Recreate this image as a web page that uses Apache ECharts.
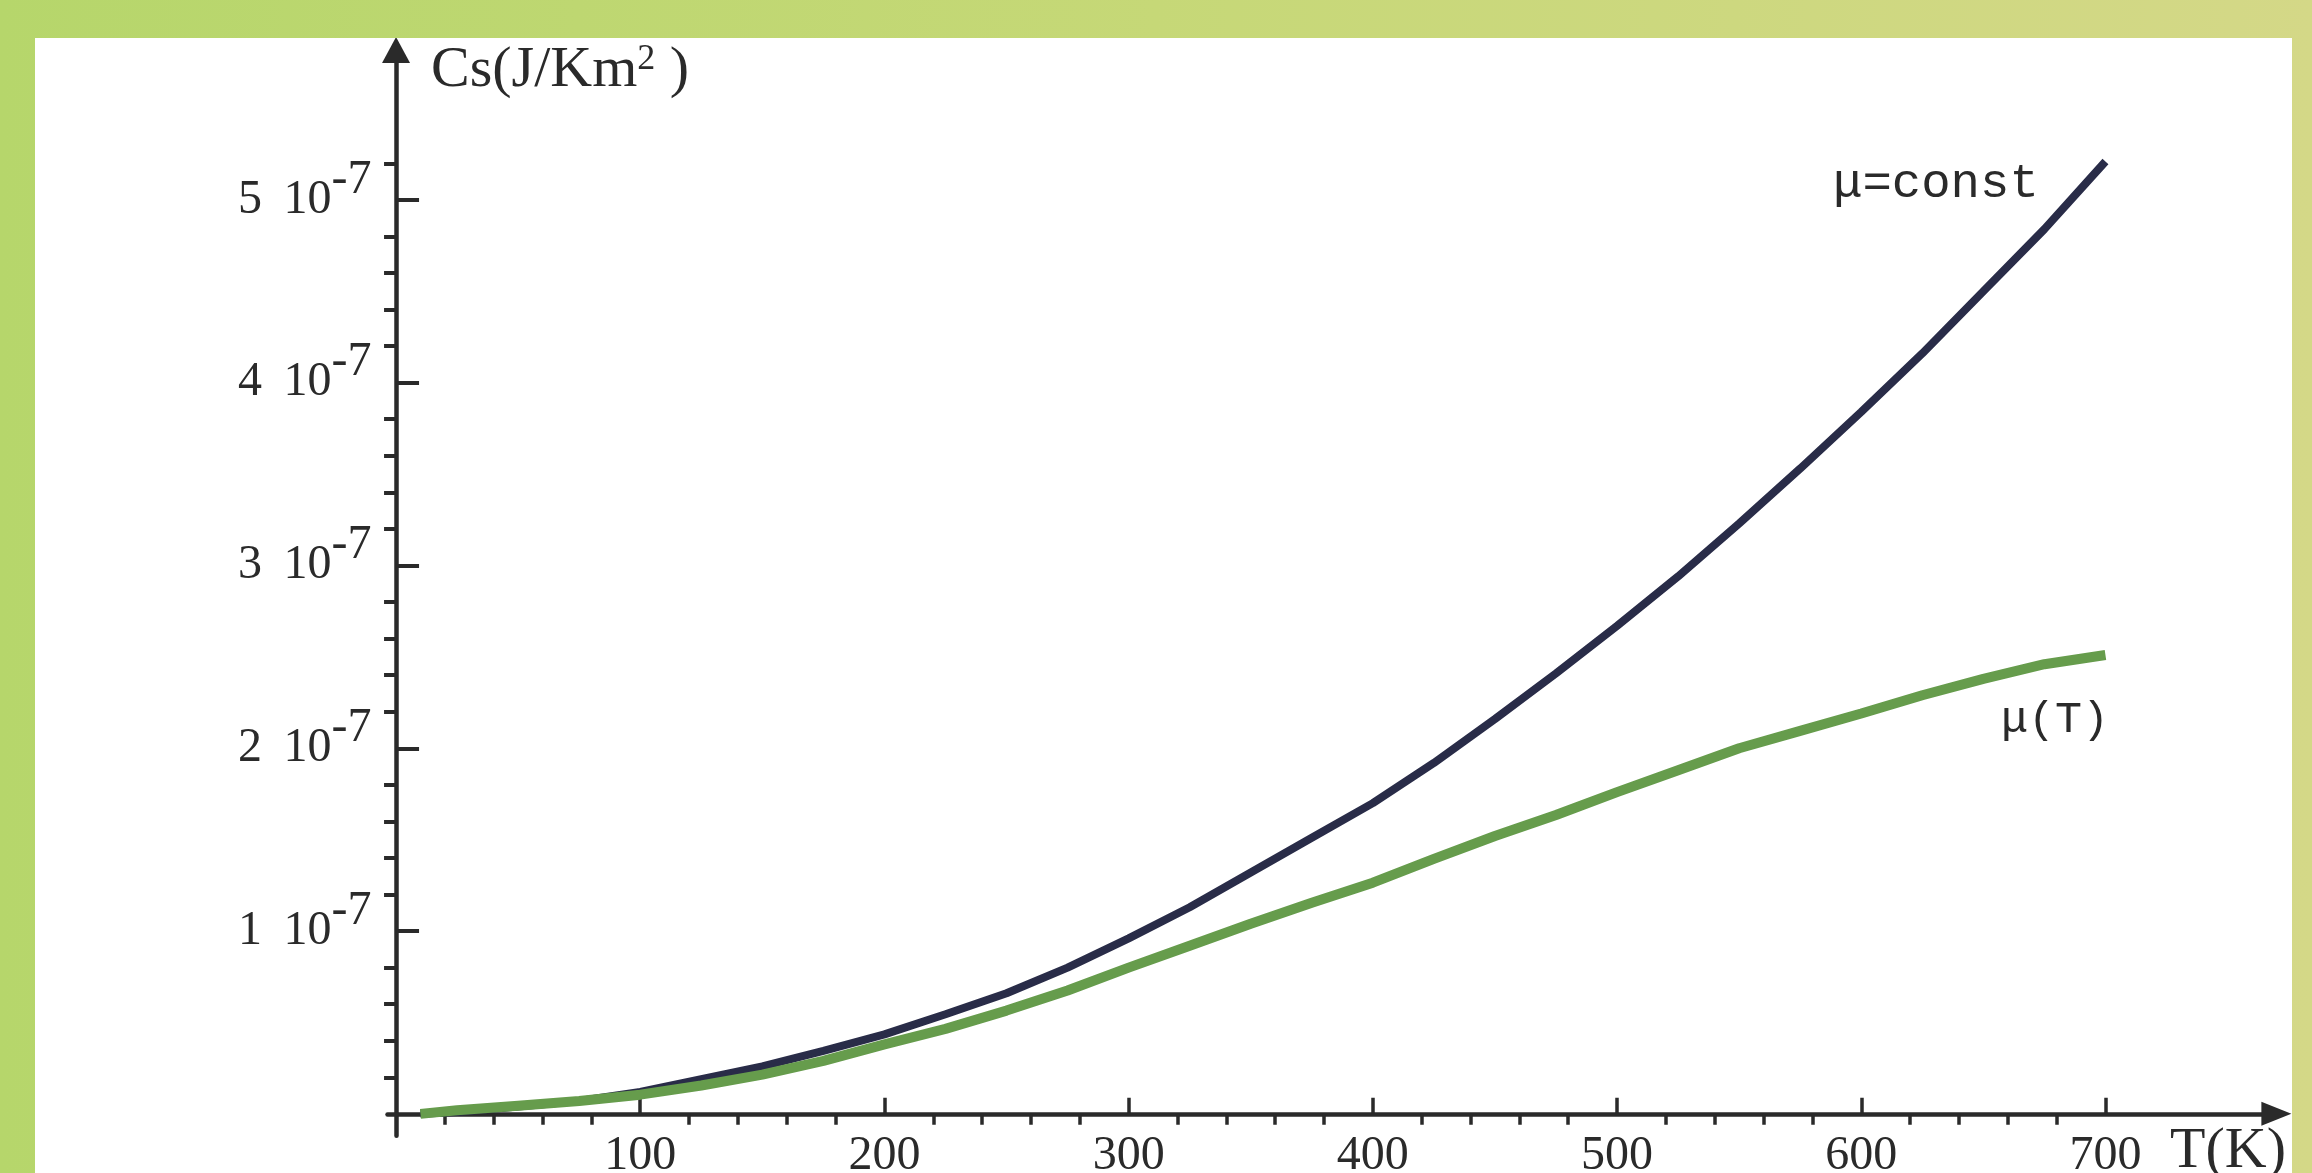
<!DOCTYPE html>
<html>
<head>
<meta charset="utf-8">
<script src="https://cdn.jsdelivr.net/npm/echarts@6/dist/echarts.min.js"></script>
<style>
  html, body { margin: 0; padding: 0; }
  body {
    width: 2312px; height: 1173px; overflow: hidden;
    background: linear-gradient(to right, #b6d66b 0%, #c6d877 50%, #d4d887 100%);
  }
  #frame {
    position: absolute; left: 35px; top: 38px;
    width: 2257px; height: 1135px;
    background: #fff; overflow: hidden;
  }
  #chart { width: 2257px; height: 1135px; }
</style>
</head>
<body>
<div id="frame"><div id="chart"></div></div>
<script>
// temperature T (K)
const temps = [10, 25, 50, 75, 100, 125, 150, 175, 200, 225, 250, 275, 300, 325, 350,
  375, 400, 425, 450, 475, 500, 525, 550, 575, 600, 625, 650, 675, 700];
// Cs in units of 1e-7 J/(K m^2)
const csConstMu = [0.00, 0.01, 0.04, 0.07, 0.12, 0.19, 0.26, 0.345, 0.435, 0.545, 0.66, 0.80, 0.96,
  1.13, 1.32, 1.51, 1.70, 1.92, 2.16, 2.41, 2.67, 2.94, 3.23, 3.53, 3.84, 4.16, 4.50, 4.84, 5.21];
const csMuOfT = [0.00, 0.02, 0.045, 0.07, 0.105, 0.155, 0.215, 0.29, 0.38, 0.465, 0.565, 0.675, 0.80,
  0.92, 1.04, 1.155, 1.265, 1.395, 1.52, 1.635, 1.76, 1.88, 2.0, 2.095, 2.19, 2.29, 2.38, 2.46, 2.51];

const xMajor = [100, 200, 300, 400, 500, 600, 700];
const yMajor = [1, 2, 3, 4, 5];

// minor ticks: every 20 K up to 700, every 0.2e-7 up to 5.2e-7
const xMinor = [];
for (let t = 20; t < 700; t += 20) if (t % 100 !== 0) xMinor.push(t);
const yMinor = [];
for (let i = 1; i <= 26; i++) if (i % 5 !== 0) yMinor.push(+(i * 0.2).toFixed(1));

const ink = '#2a2a2a';
const serif = '"Liberation Serif", "Times New Roman", serif';
const mono = '"Liberation Mono", "Courier New", monospace';

const chart = echarts.init(document.getElementById('chart'));

const xRange = { min: -3.5, max: 770 };
const yRange = { min: -0.12, max: 5.82 };

const option = {
  animation: false,
  grid: { left: 352.5, right: 15.6, top: 12, bottom: 37.2, containLabel: false, outerBoundsMode: 'none' },
  xAxis: [
    {
      type: 'value', ...xRange,
      axisLine: { onZero: true, onZeroAxisIndex: 0, symbol: ['none', 'triangle'], symbolSize: [24, 30],
        lineStyle: { color: ink, width: 4.5 } },
      axisTick: { inside: true, length: 16, customValues: xMajor, lineStyle: { color: ink, width: 3.5 } },
      axisLabel: { customValues: xMajor, margin: -3, color: ink, fontFamily: serif, fontSize: 48 },
      splitLine: { show: false }
    },
    {
      type: 'value', ...xRange,
      axisLine: { show: false, onZero: true, onZeroAxisIndex: 0 },
      axisTick: { inside: true, length: 11, customValues: xMinor, lineStyle: { color: ink, width: 3.5 } },
      axisLabel: { show: false },
      splitLine: { show: false }
    }
  ],
  yAxis: [
    {
      type: 'value', ...yRange,
      axisLine: { onZero: true, onZeroAxisIndex: 0, symbol: ['none', 'triangle'], symbolSize: [28, 26],
        lineStyle: { color: ink, width: 4.5 } },
      axisTick: { inside: true, length: 23, customValues: yMajor, lineStyle: { color: ink, width: 4 } },
      axisLabel: {
        customValues: yMajor, margin: 16, color: ink,
        formatter: v => '{n|' + v + ' \u200910}{s|-7}',
        rich: {
          n: { fontFamily: serif, fontSize: 48, lineHeight: 48, color: ink },
          // superscript: extra bottom padding lifts the exponent above the baseline
          s: { fontFamily: serif, fontSize: 48, lineHeight: 48, padding: [0, 0, 40, 0], color: ink }
        }
      },
      splitLine: { show: false }
    },
    {
      type: 'value', ...yRange,
      axisLine: { show: false, onZero: true, onZeroAxisIndex: 0 },
      axisTick: { inside: true, length: 12, customValues: yMinor, lineStyle: { color: ink, width: 4 } },
      axisLabel: { show: false },
      splitLine: { show: false }
    }
  ],
  series: [
    {
      name: 'μ=const', type: 'line', showSymbol: false,
      data: temps.map((t, i) => [t, csConstMu[i]]),
      lineStyle: { color: '#292c48', width: 8 }
    },
    {
      name: 'μ(T)', type: 'line', showSymbol: false,
      data: temps.map((t, i) => [t, csMuOfT[i]]),
      lineStyle: { color: '#669c4c', width: 10 }
    }
  ],
  graphic: [
    {
      type: 'text', left: 396, top: 4,
      style: {
        text: '{b|Cs(J/Km}{s|2}{b| )}',
        rich: {
          b: { fontFamily: serif, fontSize: 58, lineHeight: 58, fill: ink },
          s: { fontFamily: serif, fontSize: 36, lineHeight: 14, verticalAlign: 'top', fill: ink }
        }
      }
    },
    {
      type: 'text', left: 2135, top: 1085,
      style: { text: 'T(K)', fontFamily: serif, fontSize: 58, fill: ink }
    },
    {
      type: 'text', left: 1798, top: 122,
      style: { text: 'μ=const', fontFamily: mono, fontSize: 49, fill: ink }
    },
    {
      type: 'text', left: 1966, top: 660,
      style: { text: 'μ(T)', fontFamily: mono, fontSize: 45, fill: ink }
    }
  ]
};

chart.setOption(option);
</script>
</body>
</html>
